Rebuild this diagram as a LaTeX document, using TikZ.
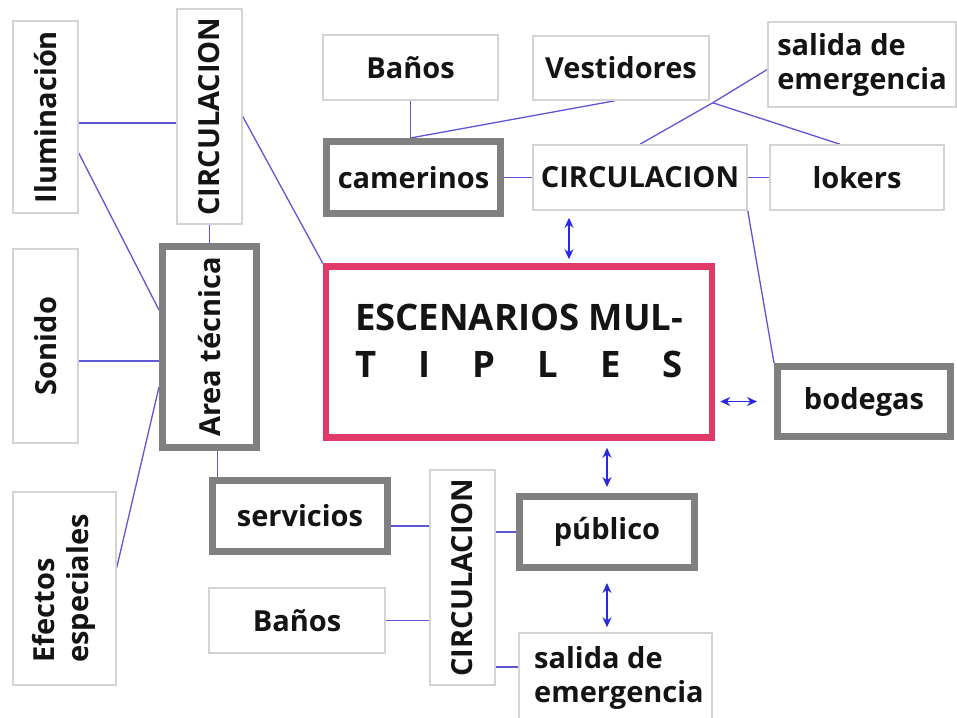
\documentclass[tikz,border=0pt]{standalone}
\usepackage{fontspec}
\usepackage{graphicx}
\setmainfont{Open Sans}
\usetikzlibrary{arrows.meta,calc}
\definecolor{thinc}{RGB}{212,212,212}
\definecolor{thickc}{RGB}{128,128,128}
\definecolor{pinkc}{RGB}{224,58,104}
\definecolor{linec}{RGB}{95,85,215}
\definecolor{arrc}{RGB}{40,40,230}
\pgfdeclarelayer{bg}
\pgfsetlayers{bg,main}
\begin{document}
\begin{tikzpicture}[x=1pt,y=-1pt,
  lab/.style={font=\fontsize{29}{34}\selectfont\bfseries, text=black!92},
  thinbox/.style={lab, draw=thinc, line width=1.5pt, fill=white, inner sep=0pt},
  thickbox/.style={lab, draw=thickc, line width=7pt, fill=white, inner sep=0pt},
  escbox/.style={draw=pinkc, line width=6.5pt, fill=white, inner sep=0pt},
  conn/.style={draw=linec, line width=1.3pt},
  arr/.style={draw=arrc, line width=1.3pt, {Stealth[length=10pt,width=9pt]}-{Stealth[length=10pt,width=9pt]}}
]
\useasboundingbox (0,0) rectangle (957,717);
\clip (0,0) rectangle (957,717);

% thin boxes
\node[thinbox, minimum width=65pt, minimum height=192pt] (ilum) at (45.5,117) {\rotatebox{90}{Iluminación}};
\node[thinbox, minimum width=65pt, minimum height=215pt] (circL) at (209.5,116.5) {\rotatebox{90}{CIRCULACION}};
\node[thinbox, minimum width=65pt, minimum height=194pt] (sonido) at (45.5,346) {\rotatebox{90}{Sonido}};
\node[thinbox, minimum width=103pt, minimum height=193pt] (efectos) at (64.5,588.5) {\rotatebox{90}{\begin{tabular}{@{}l@{}}Efectos\\especiales\end{tabular}}};
\node[thinbox, minimum width=176pt, minimum height=65pt] (banosB) at (297,620.5) {Baños};
\node[thinbox, minimum width=65pt, minimum height=215pt] (circB) at (462.5,577.5) {\rotatebox{90}{CIRCULACION}};
\node[thinbox, minimum width=193pt, minimum height=100pt] (salidaB) at (615.5,683) {};
\node[lab, align=left, anchor=base west, inner sep=0pt] (salidaBt) at (534,702) {salida de\\emergencia};
\node[thinbox, minimum width=175pt, minimum height=65pt] (banosT) at (410.5,67.5) {Baños};
\node[thinbox, minimum width=176pt, minimum height=64pt] (vest) at (621,68) {Vestidores};
\node[thinbox, minimum width=188pt, minimum height=85pt, align=left] (salidaT) at (862,64.5) {salida de\\emergencia};
\node[thinbox, minimum width=214pt, minimum height=65pt] (circT) at (640,177.5) {CIRCULACION};
\node[thinbox, minimum width=174pt, minimum height=65pt] (lokers) at (857,177.5) {lokers};

% thick boxes
\node[thickbox, minimum width=94pt, minimum height=201pt] (area) at (209.5,347) {\rotatebox{90}{Area técnica}};
\node[thickbox, minimum width=175pt, minimum height=71pt] (serv) at (300,516) {servicios};
\node[thickbox, minimum width=175pt, minimum height=71pt] (publico) at (607,532) {público};
\node[thickbox, minimum width=174pt, minimum height=72pt] (camer) at (413.5,177.5) {camerinos};
\node[thickbox, minimum width=173pt, minimum height=70pt] (bodegas) at (864,401.5) {bodegas};

% main box
\node[escbox, minimum width=386pt, minimum height=171pt] (esc) at (519,352) {};
\node[lab, font=\fontsize{36.5}{47}\selectfont\bfseries, anchor=base, inner sep=0pt] (esct1) at (519,330) {\makebox[328pt][s]{ESCENARIOS MUL-}};
\node[lab, font=\fontsize{36.5}{47}\selectfont\bfseries, anchor=base, inner sep=0pt] (esct2) at (519,377) {\makebox[328pt]{T\hfill I\hfill P\hfill L\hfill E\hfill S}};

% helper coordinates
\coordinate (J) at ([xshift=3pt,yshift=-2pt]vest.south east);
\coordinate (cb) at (banosT.south |- camer.north);
\coordinate (s1) at (salidaB.west |- 0,667);
\coordinate (a1) at ([xshift=-71pt]circT.south);
\coordinate (a2) at ([yshift=-12pt]publico.south);
\coordinate (a3) at ([yshift=5pt]publico.south |- salidaB.north);
\coordinate (b1) at ([xshift=-17pt]bodegas.west);

\begin{pgfonlayer}{bg}
\draw[conn] ([yshift=-6pt]ilum.east) -- ([yshift=-6pt]ilum.east -| circL.west);
\draw[conn] ([yshift=-36pt]ilum.east) -- ([yshift=37pt]area.west);
\draw[conn] (circL.south) -- (area.north);
\draw[conn] (circL.east) -- (esc.north west);
\draw[conn] ([yshift=-15pt]sonido.east) -- ([yshift=-15pt]sonido.east -| area.west);
\draw[conn] ([yshift=21pt]efectos.east) -- ([yshift=-40pt]area.west);
\draw[conn] ([xshift=8pt]area.south) -- ([xshift=8pt]area.south |- serv.north);
\draw[conn] ([yshift=-10pt]serv.east) -- ([yshift=-10pt]serv.east -| circB.west);
\draw[conn] (banosB.east) -- (banosB.east -| circB.west);
\draw[conn] (publico.west -| circB.east) -- (publico.west);
\draw[conn] (s1) -- (s1 -| circB.east);
\draw[conn] (circT.south east) -- (bodegas.north west);
\draw[conn] (camer.east) -- (circT.west);
\draw[conn] (banosT.south) -- (cb);
\draw[conn] ([xshift=-6pt]vest.south) -- (cb);
\draw[conn] (J) -- ([yshift=-5pt]salidaT.west);
\draw[conn] (J) -- (circT.north);
\draw[conn] (J) -- ([xshift=-17pt]lokers.north);
\draw[conn] (circT.east) -- (lokers.west);
\end{pgfonlayer}

% arrows
\draw[arr] ([yshift=6pt]publico.north) -- ([yshift=-7pt]publico.north |- esc.south);
\draw[arr] (a2) -- (a3);
\draw[arr] ([xshift=5pt]b1 -| esc.east) -- (b1);
\draw[arr] ([yshift=-7pt]a1) -- ([yshift=4pt]a1 |- esc.north);
\end{tikzpicture}
\end{document}
